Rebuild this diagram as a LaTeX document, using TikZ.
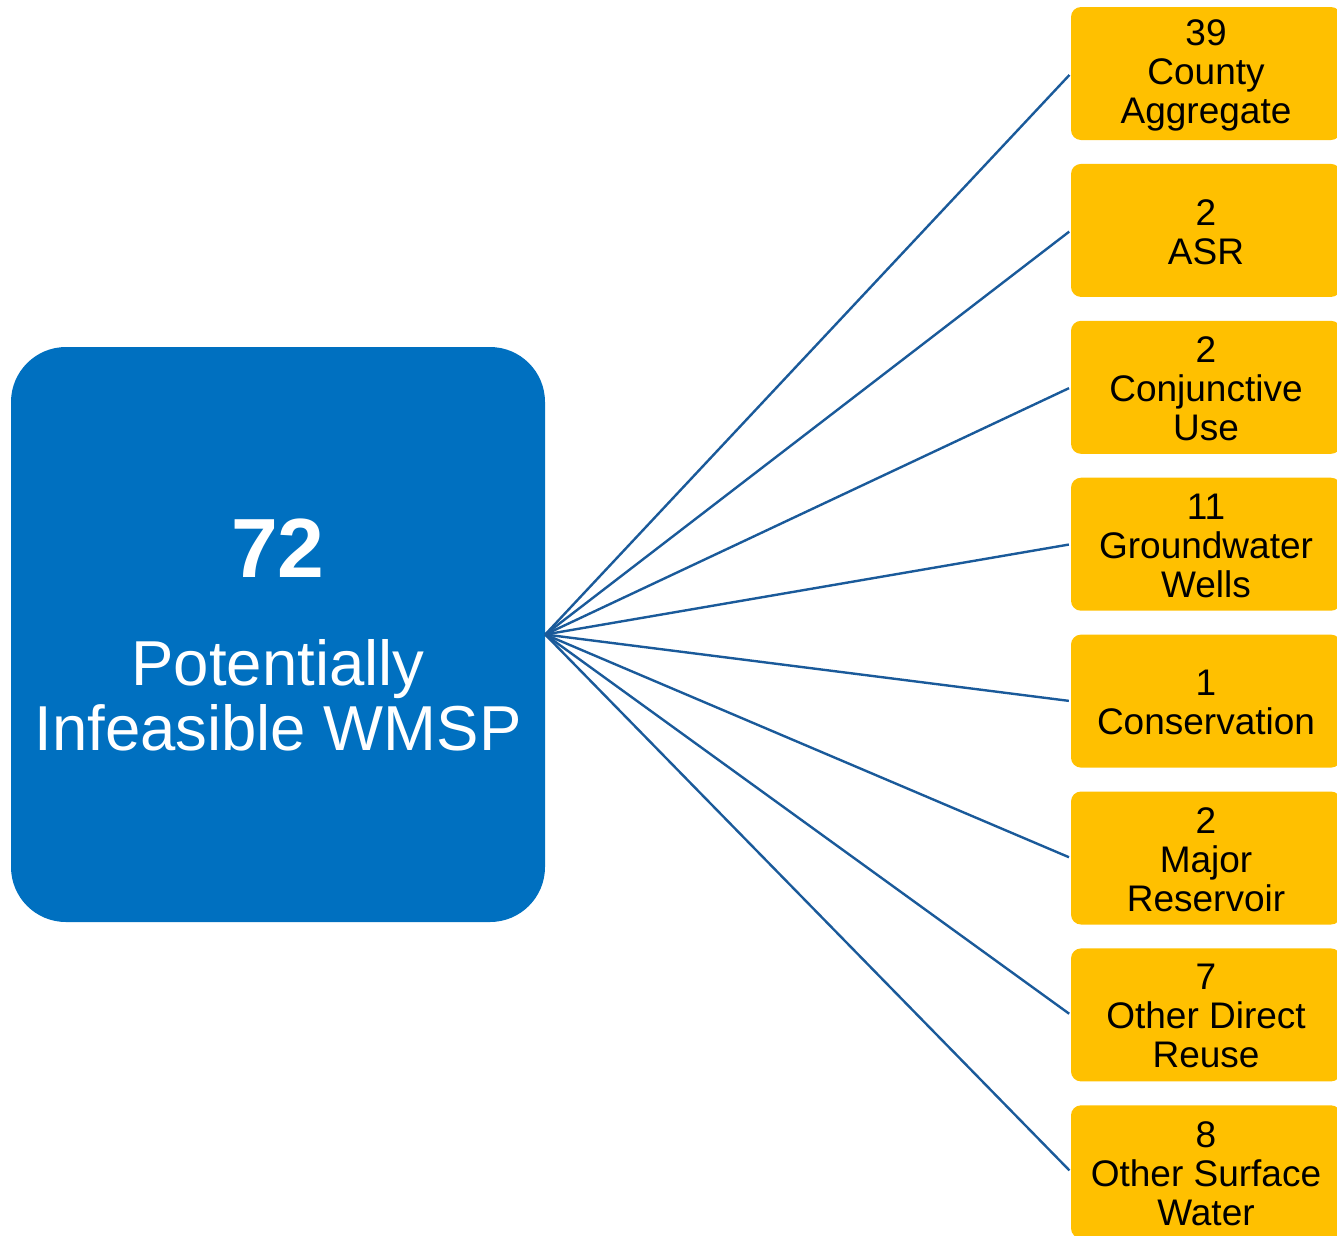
\documentclass[tikz,border=0pt]{standalone}
\usepackage{fontspec}
\setmainfont{Liberation Sans}
\definecolor{bigblue}{HTML}{0070C0}
\definecolor{gold}{HTML}{FFC000}
\definecolor{linkblue}{HTML}{1A5A9A}
\begin{document}
\begin{tikzpicture}[x=1pt,y=-1pt,
  bigbox/.style={fill=bigblue, draw=none, rounded corners=55pt, minimum width=534pt, minimum height=575pt, inner sep=0pt},
  catbox/.style={fill=gold, draw=none, rounded corners=10pt, minimum width=270pt, minimum height=133pt, inner sep=0pt},
  cattext/.style={align=center, inner sep=0pt, font=\fontsize{37}{39}\selectfont, text=black},
  link/.style={draw=linkblue, line width=2.4pt, shorten >=2pt}]
\useasboundingbox (0,0) rectangle (1337,1235);
\node[bigbox] (hub) at (278,634.5) {};
\node[anchor=base, inner sep=0pt, text=white, font=\fontsize{84}{84}\bfseries\selectfont] (num) at (278,577) {72};
\node[anchor=base, inner sep=0pt, text=white, font=\fontsize{63.5}{65}\selectfont] (t1) at (278,685) {Potentially};
\node[anchor=base, inner sep=0pt, text=white, font=\fontsize{63.5}{65}\selectfont] (t2) at (278,750) {Infeasible WMSP};
\foreach \i/\txt in {0/{39\\County\\Aggregate},1/{2\\ASR},2/{2\\Conjunctive\\Use},3/{11\\Groundwater\\Wells},4/{1\\Conservation},5/{2\\Major\\Reservoir},6/{7\\Other Direct\\Reuse},7/{8\\Other Surface\\Water}}{
  \node[catbox] (c\i) at (1206,{73.5+156.9*\i}) {};
  \node[cattext] (l\i) at (1206,{75+156.9*\i}) {\txt};
  \draw[link] (hub.east) -- (c\i.west);
}
\end{tikzpicture}
\end{document}
